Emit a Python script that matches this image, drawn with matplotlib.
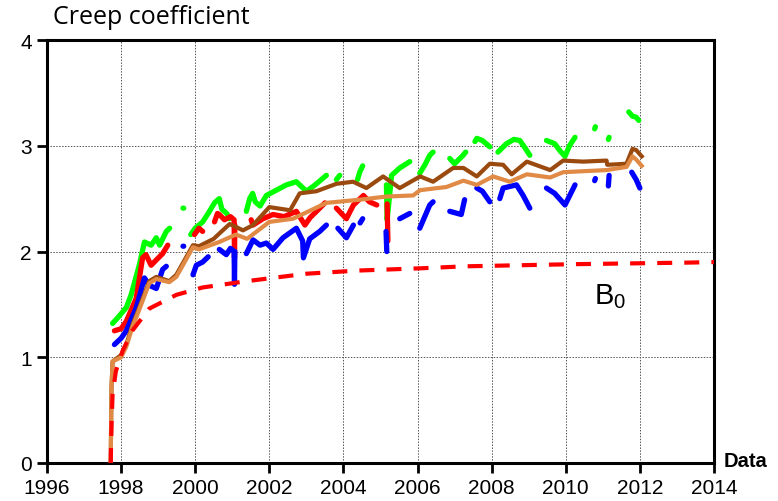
import numpy as np
import matplotlib.pyplot as plt

nan = np.nan

# B0 model curve
b0_t = [1997.72, 1997.74, 1997.77, 1997.86, 1998.04, 1998.3, 1998.76, 1999.49,
        2000.2, 2001.4, 2003.0, 2004.4, 2006.0, 2007.3, 2010.2, 2013.3, 2014.0]
b0_v = [0.0, 0.35, 0.65, 0.87, 1.06, 1.25, 1.46, 1.59,
        1.66, 1.72, 1.79, 1.82, 1.84, 1.86, 1.88, 1.895, 1.90]

# measured sensors (gaps = nan)
green_t = [1997.77, 1997.9, 1998.14, 1998.27, 1998.49, 1998.63, 1998.81, 1998.95, 1999.04, 1999.22, 1999.31, nan,
           1999.67, 1999.69, nan,
           1999.88, 2000.0, 2000.2, 2000.35, 2000.52, 2000.65, 2000.72, 2000.85, 2000.93, nan,
           2001.38, 2001.47, 2001.55, 2001.62, 2001.75, 2001.92, 2002.19, 2002.46, 2002.73, 2003.0, 2003.2, 2003.54, nan,
           2003.81, 2003.9, nan, 2004.38, 2004.44, 2004.52, nan,
           2005.16, 2005.18, 2005.3, 2005.52, 2005.79, nan,
           2006.06, 2006.2, 2006.33, 2006.42, nan,
           2006.87, 2007.0, 2007.23, 2007.3, nan,
           2007.55, 2007.6, 2007.75, 2007.95, nan,
           2008.17, 2008.4, 2008.6, 2008.76, 2008.9, 2009.03, nan,
           2009.48, 2009.7, 2009.85, 2009.98, 2010.1, 2010.25, nan,
           2010.78, 2010.8, nan, 2011.15, 2011.17, nan,
           2011.7, 2011.8, 2011.9, 2011.97]
green_v = [1.32, 1.37, 1.47, 1.59, 1.87, 2.09, 2.06, 2.13, 2.06, 2.19, 2.22, nan,
           2.41, 2.41, nan,
           2.16, 2.22, 2.28, 2.36, 2.46, 2.50, 2.40, 2.36, 2.31, nan,
           2.38, 2.50, 2.55, 2.47, 2.43, 2.53, 2.58, 2.63, 2.66, 2.57, 2.62, 2.72, nan,
           2.68, 2.72, nan, 2.68, 2.75, 2.81, nan,
           2.63, 2.30, 2.72, 2.79, 2.85, nan,
           2.74, 2.82, 2.91, 2.94, nan,
           2.88, 2.83, 2.91, 2.94, nan,
           3.04, 3.07, 3.05, 2.99, nan,
           2.94, 3.02, 3.06, 3.05, 2.98, 2.91, nan,
           3.05, 3.02, 2.95, 2.90, 3.00, 3.08, nan,
           3.16, 3.18, nan, 3.06, 3.08, nan,
           3.32, 3.28, 3.27, 3.24]

red_t = [1997.82, 1998.0, 1998.14, 1998.41, 1998.58, 1998.67, 1998.81, 1998.95, 1999.12, 1999.26, nan,
         1999.98, 2000.1, 2000.2, nan,
         2000.52, 2000.6, 2000.65, 2000.79, 2000.95, 2001.05, 2001.06, 2001.07, nan,
         2001.51, 2001.56, 2001.83, 2002.1, 2002.4, 2002.73, 2002.96, 2003.1, 2003.36, 2003.5, nan,
         2003.81, 2004.08, 2004.27, 2004.54, 2004.7, 2004.9, nan,
         2005.18, 2005.2]
red_v = [1.25, 1.27, 1.34, 1.56, 1.94, 1.97, 1.87, 1.92, 1.98, 2.06, nan,
         2.16, 2.22, 2.19, nan,
         2.28, 2.36, 2.35, 2.30, 2.33, 2.30, 1.94, 2.25, nan,
         2.30, 2.25, 2.31, 2.35, 2.33, 2.38, 2.25, 2.32, 2.41, 2.46, nan,
         2.41, 2.31, 2.44, 2.53, 2.47, 2.44, nan,
         2.45, 2.10]

blue_t = [1997.82, 1998.0, 1998.14, 1998.41, 1998.63, 1998.76, 1998.95, 1999.12, 1999.22, nan,
          1999.67, 1999.69, nan,
          1999.94, 2000.03, 2000.2, 2000.35, nan,
          2000.65, 2000.84, 2000.95, 2001.05, 2001.06, 2001.07, nan,
          2001.38, 2001.56, 2001.75, 2001.92, 2002.1, 2002.37, 2002.73, 2002.9, 2002.92, 2003.09, 2003.36, 2003.54, nan,
          2003.85, 2004.08, 2004.27, nan, 2004.45, 2004.52, nan,
          2005.15, 2005.17, nan, 2005.52, 2005.79, nan,
          2006.06, 2006.33, 2006.42, nan,
          2006.87, 2007.18, 2007.27, nan,
          2007.6, 2007.75, 2007.95, nan,
          2008.22, 2008.31, 2008.67, 2008.85, 2009.03, nan,
          2009.48, 2009.7, 2009.98, 2010.25, nan,
          2010.78, 2010.8, nan, 2011.15, 2011.17, nan,
          2011.78, 2011.9, 2012.0]
blue_v = [1.12, 1.18, 1.25, 1.47, 1.75, 1.68, 1.65, 1.83, 1.86, nan,
          2.05, 2.05, nan,
          1.78, 1.87, 1.90, 1.95, nan,
          2.02, 1.97, 2.03, 2.00, 1.69, 2.00, nan,
          1.98, 2.11, 2.06, 2.08, 2.02, 2.13, 2.22, 2.10, 1.94, 2.12, 2.19, 2.25, nan,
          2.22, 2.13, 2.25, nan, 2.27, 2.31, nan,
          2.19, 2.00, nan, 2.31, 2.36, nan,
          2.22, 2.44, 2.47, nan,
          2.38, 2.35, 2.49, nan,
          2.60, 2.57, 2.47, nan,
          2.50, 2.60, 2.63, 2.53, 2.41, nan,
          2.60, 2.55, 2.44, 2.63, nan,
          2.67, 2.69, nan, 2.62, 2.72, nan,
          2.75, 2.68, 2.60]

# averaged curves
brown_t = [1997.72, 1997.74, 1997.77, 1998.0, 1998.14, 1998.31, 1998.49, 1998.76, 1998.95, 1999.3, 1999.49,
           1999.94, 2000.1, 2000.5, 2000.65, 2000.93, 2001.29, 2001.56, 2002.0, 2002.56, 2002.82, 2003.27,
           2003.81, 2004.26, 2004.62, 2005.07, 2005.52, 2006.07, 2006.42, 2006.96, 2007.24, 2007.6, 2007.95,
           2008.31, 2008.54, 2008.95, 2009.58, 2009.93, 2010.47, 2011.1, 2011.12, 2011.64, 2011.8, 2011.9, 2012.05]
brown_v = [0.0, 0.7, 0.96, 1.02, 1.12, 1.31, 1.47, 1.72, 1.76, 1.72, 1.78,
           2.06, 2.05, 2.12, 2.17, 2.26, 2.20, 2.25, 2.42, 2.39, 2.55, 2.57,
           2.64, 2.66, 2.60, 2.71, 2.60, 2.71, 2.66, 2.79, 2.79, 2.71, 2.83,
           2.82, 2.73, 2.85, 2.77, 2.86, 2.85, 2.86, 2.82, 2.83, 2.97, 2.96, 2.90]

orange_t = [1997.72, 1997.74, 1997.77, 1998.0, 1998.14, 1998.31, 1998.49, 1998.76, 1998.95, 1999.3, 1999.49,
            1999.94, 2000.1, 2000.65, 2001.1, 2001.4, 2002.0, 2002.64, 2003.54, 2004.44, 2005.16, 2005.88,
            2006.07, 2006.78, 2007.24, 2007.6, 2008.04, 2008.49, 2008.95, 2009.58, 2009.93, 2011.1, 2011.64,
            2011.8, 2011.9, 2012.05]
orange_v = [0.0, 0.7, 0.96, 1.00, 1.10, 1.29, 1.45, 1.70, 1.74, 1.71, 1.76,
            2.04, 2.02, 2.09, 2.16, 2.12, 2.28, 2.31, 2.46, 2.49, 2.52, 2.53,
            2.58, 2.61, 2.67, 2.63, 2.71, 2.66, 2.73, 2.70, 2.75, 2.77, 2.80,
            2.90, 2.87, 2.81]

x_ticks = list(range(1996, 2015, 2))
y_ticks = [0, 1, 2, 3, 4]

plt.rcParams['font.family'] = ['Liberation Sans', 'DejaVu Sans']
plt.rcParams['mathtext.fontset'] = 'custom'
plt.rcParams['mathtext.rm'] = 'Liberation Sans'
plt.rcParams['mathtext.it'] = 'Liberation Sans'

fig = plt.figure(figsize=(7.78, 5.02), dpi=100)
ax = fig.add_axes([0.0604, 0.0757, 0.8573, 0.8426])

ax.plot(green_t, green_v, color='#00FF00', lw=3.8, solid_capstyle='round', solid_joinstyle='round', zorder=2)
ax.plot(red_t, red_v, color='#FF0000', lw=3.8, solid_capstyle='round', solid_joinstyle='round', zorder=3)
ax.plot(blue_t, blue_v, color='#0000FF', lw=3.8, solid_capstyle='round', solid_joinstyle='round', zorder=3)
ax.plot(brown_t, brown_v, color='#9A4A0E', lw=3.0, zorder=4)
ax.plot(orange_t, orange_v, color='#E08A45', lw=3.0, zorder=5)
ax.plot(b0_t, b0_v, color='#FF0000', lw=3.0, dashes=(3.6, 2.9), zorder=6)

ax.set_xlim(1996, 2014)
ax.set_ylim(0, 4)
ax.set_xticks(x_ticks)
ax.set_yticks(y_ticks)
ax.grid(True, color='#555555', ls=(0, (1.5, 1.5)), lw=0.7)
ax.set_axisbelow(True)
for s in ax.spines.values():
    s.set_linewidth(2.2)
ax.tick_params(direction='out', length=7, width=2, labelsize=15, pad=4)

fig.text(0.068, 0.965, 'Creep coefficient', fontsize=18, family=['Open Sans', 'DejaVu Sans'],
         va='center', ha='left')
ax.text(1.015, 0.005, 'Data', transform=ax.transAxes, fontsize=14.5, fontweight='bold',
        ha='left', va='center')
ax.text(2010.75, 1.51, r'B$_{\mathrm{0}}$', fontsize=21, ha='left', va='baseline')

fig.savefig('out.png', dpi=100)
